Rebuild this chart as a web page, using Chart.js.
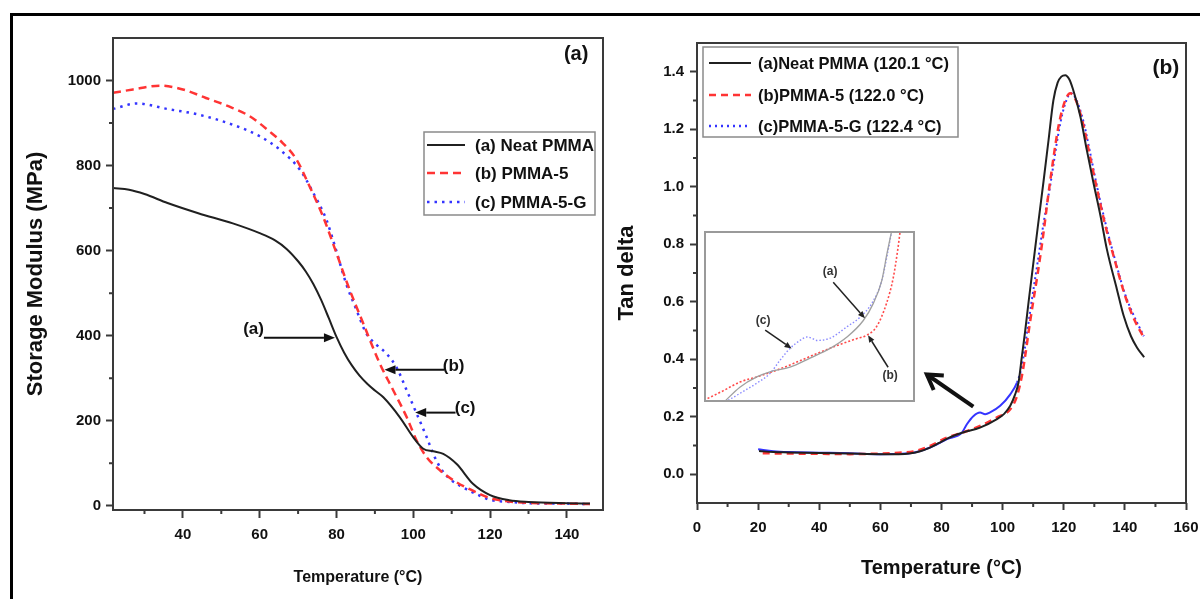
<!DOCTYPE html>
<html><head><meta charset="utf-8">
<script src="https://cdn.jsdelivr.net/npm/chart.js@4.4.1/dist/chart.umd.min.js"></script>
<style>
html,body{margin:0;padding:0;background:#fff;width:1200px;height:599px;overflow:hidden;position:relative}
canvas{position:absolute}
#border{position:absolute;left:10px;top:13px;width:1300px;height:700px;border-top:3px solid #000;border-left:3px solid #000}
</style></head><body>
<div id="border"></div>
<canvas id="ca" style="left:0;top:0" width="615" height="599"></canvas>
<canvas id="cb" style="left:605px;top:0" width="610" height="599"></canvas>
<canvas id="ci" style="left:704px;top:231px" width="211" height="171"></canvas>
<script>
// ---------- Panel (a): storage modulus ----------
const tempA_neat = [21.8, 26, 30, 36, 44, 53, 60, 64, 67, 70, 72, 74, 76, 78, 80, 82, 84, 86, 88, 90, 92.2, 96.5, 100, 102.6, 105.2, 107.8, 111.3, 115.6, 120, 125, 130, 140, 146];
const modA_neat  = [747, 743, 733, 712, 688, 664, 641, 624, 604, 575, 551, 521, 484, 441, 397, 360, 330, 306, 287, 271, 255, 208, 161, 134, 128, 122, 98, 51, 25, 13, 9, 6, 5];
const tempA_p5   = [21.8, 27, 34, 40, 46, 52, 57.4, 62.6, 66, 69.6, 73, 76.5, 80, 83, 87, 91.3, 94.8, 98.3, 100.9, 103.5, 107, 111.3, 114.7, 120, 125, 130, 140, 146];
const modA_p5    = [971, 979, 988, 979, 959, 939, 916, 880, 853, 814, 751, 680, 594, 518, 428, 334, 271, 208, 153, 114, 83, 55, 39, 18, 10, 7, 5, 4];
const tempA_p5g  = [21.8, 28, 36, 44, 53, 60, 65.3, 70.5, 74, 77.4, 79.5, 82.6, 85, 87.8, 90.5, 93, 95.6, 98.3, 100.9, 103.5, 105.2, 107, 109.5, 113, 117, 120, 125, 130, 140, 146];
const modA_p5g   = [933, 946, 933, 920, 896, 869, 837, 790, 735, 672, 613, 520, 465, 405, 378, 358, 326, 271, 216, 161, 122, 90, 63, 43, 25, 14, 9, 6, 5, 4];
const xTicksA = [40, 60, 80, 100, 120, 140];
const xMinorA = [30, 50, 70, 90, 110, 130];
const yTicksA = [0, 200, 400, 600, 800, 1000];
const yMinorA = [100, 300, 500, 700, 900];
const labelsA = ['(a) Neat PMMA', '(b) PMMA-5', '(c) PMMA-5-G'];

// ---------- Panel (b): tan delta ----------
const tempB_neat = [20.3, 25, 30, 40, 50, 60, 66, 70, 73, 76, 79, 82, 87, 92.6, 98, 100.5, 102.5, 104, 105.2, 106.3, 107.4, 108.5, 110, 111.5, 113.4, 115, 116.6, 118, 119.2, 120.5, 121.8, 123, 125.4, 127.5, 129.7, 132, 134.1, 137.4, 139.6, 142, 144, 146.3];
const tanB_neat  = [0.081, 0.077, 0.076, 0.074, 0.072, 0.07, 0.07, 0.073, 0.08, 0.092, 0.108, 0.125, 0.145, 0.162, 0.191, 0.21, 0.238, 0.275, 0.319, 0.41, 0.5, 0.6, 0.73, 0.86, 1.02, 1.16, 1.3, 1.362, 1.383, 1.388, 1.374, 1.34, 1.246, 1.13, 1.015, 0.9, 0.783, 0.643, 0.551, 0.48, 0.44, 0.407];
const tempB_p5   = [21.5, 30, 40, 50, 60, 66, 70.8, 76.3, 81.8, 87, 92.6, 98, 102.5, 104.7, 106.3, 107.5, 108.7, 110, 111.5, 113, 115.5, 118.3, 120.3, 122.1, 124, 126.5, 128.5, 130.9, 133.5, 136.3, 140.1, 143, 146.2];
const tanB_p5    = [0.073, 0.072, 0.071, 0.07, 0.072, 0.075, 0.079, 0.099, 0.128, 0.145, 0.168, 0.197, 0.226, 0.272, 0.342, 0.42, 0.51, 0.6, 0.7, 0.81, 1.015, 1.211, 1.295, 1.325, 1.3, 1.211, 1.11, 0.991, 0.87, 0.759, 0.62, 0.54, 0.475];
const tempB_p5g  = [20, 25, 30, 40, 50, 60, 66, 70.8, 76.3, 81.8, 86.7, 88.3, 90.5, 92.6, 94.3, 95.9, 99.2, 102.5, 104.7, 106.3, 108, 109.6, 111.5, 113.5, 115.5, 118.5, 120.5, 122.4, 124, 126.5, 128.5, 130.9, 133.5, 136.3, 140.1, 143, 146.2];
const tanB_p5g   = [0.087, 0.08, 0.077, 0.075, 0.073, 0.07, 0.071, 0.075, 0.093, 0.122, 0.145, 0.174, 0.203, 0.215, 0.209, 0.215, 0.238, 0.278, 0.319, 0.377, 0.493, 0.609, 0.74, 0.88, 1.0, 1.2, 1.29, 1.325, 1.305, 1.225, 1.125, 1.0, 0.88, 0.765, 0.625, 0.55, 0.48];
const xTicksB = [0, 20, 40, 60, 80, 100, 120, 140, 160];
const xMinorB = [10, 30, 50, 70, 90, 110, 130, 150];
const yTicksB = [0.0, 0.2, 0.4, 0.6, 0.8, 1.0, 1.2, 1.4];
const yMinorB = [0.1, 0.3, 0.5, 0.7, 0.9, 1.1, 1.3];
const labelsB = ['(a)Neat PMMA (120.1 °C)', '(b)PMMA-5 (122.0 °C)', '(c)PMMA-5-G (122.4 °C)'];

// ---------- Inset of panel (b) (magnified transition region) ----------
const insetT_neat = [73.8, 76.8, 80.0, 82.5, 86.3, 90.1, 93.9, 97.1, 100.2, 102.1, 103.7, 104.7, 105.6];
const insetV_neat = [0.05, 0.076, 0.094, 0.103, 0.111, 0.127, 0.144, 0.164, 0.193, 0.223, 0.263, 0.311, 0.351];
const insetT_p5   = [70, 73.7, 76.8, 80, 83.8, 87.6, 91.4, 95.2, 98.9, 100.8, 102.7, 104.6, 105.9, 106.8, 107.2];
const insetV_p5   = [0.053, 0.07, 0.085, 0.094, 0.106, 0.12, 0.135, 0.149, 0.161, 0.167, 0.182, 0.223, 0.269, 0.322, 0.351];
const insetT_p5g  = [74, 76.8, 80, 82.5, 84.4, 86.3, 88.2, 89.5, 90.4, 91.4, 93.9, 97.1, 99.6, 101.8, 103.7, 104.9, 105.6];
const insetV_p5g  = [0.05, 0.065, 0.083, 0.1, 0.123, 0.144, 0.158, 0.164, 0.162, 0.158, 0.162, 0.182, 0.199, 0.223, 0.263, 0.316, 0.351];

// ---------- styles ----------
const FS = "'Liberation Sans',Arial,sans-serif";
const INK = '#111';
const AXIS = '#3a3a3a';
const RED = '#ff3434';
const BLUE = '#3434ff';
const BLACK = '#202020';

function pts(xs, ys) { return xs.map((x, i) => ({ x: x, y: ys[i] })); }
function fixTicks(arr) { return s => { s.ticks = arr.map(v => ({ value: v })); }; }

function arrow(ctx, x0, y0, x1, y1, head, hw, lw, color) {
  const ang = Math.atan2(y1 - y0, x1 - x0);
  const bx = x1 - head * Math.cos(ang), by = y1 - head * Math.sin(ang);
  ctx.save();
  ctx.strokeStyle = color; ctx.fillStyle = color; ctx.lineWidth = lw;
  ctx.beginPath(); ctx.moveTo(x0, y0); ctx.lineTo(bx, by); ctx.stroke();
  ctx.beginPath(); ctx.moveTo(x1, y1);
  ctx.lineTo(bx + hw * Math.sin(ang), by - hw * Math.cos(ang));
  ctx.lineTo(bx - hw * Math.sin(ang), by + hw * Math.cos(ang));
  ctx.closePath(); ctx.fill();
  ctx.restore();
}

function framePlugin(minorX, minorY, len) {
  return {
    id: 'frame',
    afterDraw(chart) {
      const { ctx, chartArea: a, scales: { x, y } } = chart;
      ctx.save();
      ctx.strokeStyle = AXIS; ctx.lineWidth = 2;
      ctx.strokeRect(a.left, a.top, a.right - a.left, a.bottom - a.top);
      ctx.beginPath();
      minorX.forEach(v => { const p = x.getPixelForValue(v); ctx.moveTo(p, a.bottom); ctx.lineTo(p, a.bottom + len); });
      minorY.forEach(v => { const p = y.getPixelForValue(v); ctx.moveTo(a.left - len, p); ctx.lineTo(a.left, p); });
      ctx.stroke();
      ctx.restore();
    }
  };
}

function drawLegend(ctx, box, rows, font, sx0, sx1, tx) {
  ctx.save();
  ctx.fillStyle = '#fff';
  ctx.fillRect(box.x, box.y, box.w, box.h);
  ctx.strokeStyle = '#8a8a8a'; ctx.lineWidth = 1.5;
  ctx.strokeRect(box.x, box.y, box.w, box.h);
  rows.forEach(r => {
    ctx.strokeStyle = r.color; ctx.lineWidth = r.width; ctx.setLineDash(r.dash);
    ctx.beginPath(); ctx.moveTo(sx0, r.y); ctx.lineTo(sx1, r.y); ctx.stroke();
    ctx.setLineDash([]);
    ctx.fillStyle = INK; ctx.font = font; ctx.textBaseline = 'middle'; ctx.textAlign = 'left';
    ctx.fillText(r.label, tx, r.y + 1);
  });
  ctx.restore();
}

function axisCommon(tickLen) {
  return {
    grid: { display: true, drawOnChartArea: false, drawTicks: true, tickLength: tickLen, tickWidth: 2, tickColor: AXIS },
    border: { display: false }
  };
}

// ---------- chart (a) ----------
const annotA = [
  { label: '(a)', lx: 58.4, ly: 414, x0: 61.1, y0: 395, x1: 79.6, y1: 395 },
  { label: '(b)', lx: 110.5, ly: 327, x0: 108, y0: 320, x1: 92.5, y1: 320 },
  { label: '(c)', lx: 113.5, ly: 229, x0: 111, y0: 219, x1: 100.5, y1: 219 }
];

new Chart(document.getElementById('ca'), {
  type: 'line',
  data: {
    datasets: [
      { label: labelsA[0], data: pts(tempA_neat, modA_neat), borderColor: BLACK, borderWidth: 2 },
      { label: labelsA[1], data: pts(tempA_p5, modA_p5), borderColor: RED, borderWidth: 2.5, borderDash: [8, 5] },
      { label: labelsA[2], data: pts(tempA_p5g, modA_p5g), borderColor: BLUE, borderWidth: 2.5, borderDash: [2.5, 5] }
    ]
  },
  options: {
    responsive: false, animation: false,
    layout: { padding: { left: 0, top: 38, right: 12, bottom: 0 } },
    elements: { point: { radius: 0 }, line: { cubicInterpolationMode: 'monotone', fill: false, borderCapStyle: 'butt' } },
    plugins: { legend: { display: false }, tooltip: { enabled: false } },
    scales: {
      x: Object.assign(axisCommon(8), {
        type: 'linear', min: 21.8, max: 149.4,
        afterBuildTicks: fixTicks(xTicksA),
        afterFit: s => { s.height = 89; },
        ticks: { font: { family: FS, size: 15, weight: 'bold' }, color: INK, padding: 8, maxRotation: 0, autoSkip: false, callback: v => String(v) },
        title: { display: true, text: 'Temperature (°C)', font: { family: FS, size: 16, weight: 'bold' }, color: INK, padding: { top: 0, bottom: 12 } }
      }),
      y: Object.assign(axisCommon(7), {
        type: 'linear', min: -10, max: 1100,
        afterBuildTicks: fixTicks(yTicksA),
        afterFit: s => { s.width = 113; },
        ticks: { font: { family: FS, size: 15, weight: 'bold' }, color: INK, padding: 5, autoSkip: false, callback: v => String(v) },
        title: { display: true, text: 'Storage Modulus (MPa)', font: { family: FS, size: 22, weight: 'bold' }, color: INK, padding: { top: 23, bottom: 0 } }
      })
    }
  },
  plugins: [framePlugin(xMinorA, yMinorA, 4), {
    id: 'decoA',
    afterDraw(chart) {
      const { ctx, scales: { x, y } } = chart;
      ctx.save();
      ctx.fillStyle = INK; ctx.textAlign = 'center'; ctx.textBaseline = 'middle';
      ctx.font = 'bold 20px ' + FS;
      ctx.fillText('(a)', x.getPixelForValue(142.4), y.getPixelForValue(1061));
      ctx.font = 'bold 17px ' + FS;
      annotA.forEach(a => {
        ctx.fillText(a.label, x.getPixelForValue(a.lx), y.getPixelForValue(a.ly));
        arrow(ctx, x.getPixelForValue(a.x0), y.getPixelForValue(a.y0), x.getPixelForValue(a.x1), y.getPixelForValue(a.y1), 11, 4.5, 2, '#111');
      });
      ctx.restore();
      const ds = chart.data.datasets;
      drawLegend(ctx, { x: 424, y: 132, w: 171, h: 83 }, [
        { label: ds[0].label, y: 145, color: BLACK, width: 2, dash: [] },
        { label: ds[1].label, y: 173, color: RED, width: 2.5, dash: [8, 5] },
        { label: ds[2].label, y: 202, color: BLUE, width: 2.5, dash: [2.5, 5] }
      ], 'bold 17px ' + FS, 427, 465, 475);
    }
  }]
});

// ---------- chart (b) ----------
const bigArrowB = { x0: 90.4, y0: 0.235, x1: 75.2, y1: 0.347 };

new Chart(document.getElementById('cb'), {
  type: 'line',
  data: {
    datasets: [
      { label: labelsB[0], data: pts(tempB_neat, tanB_neat), borderColor: BLACK, borderWidth: 2 },
      { label: labelsB[1], data: pts(tempB_p5, tanB_p5), borderColor: RED, borderWidth: 2.5, borderDash: [7, 5] },
      { label: labelsB[2], data: pts(tempB_p5g, tanB_p5g), borderColor: BLUE, borderWidth: 2, borderDash: [],
        segment: { borderDash: c => (c.p0.parsed.y > 0.32 || c.p1.parsed.y > 0.32) ? [2, 3] : undefined } }
    ]
  },
  options: {
    responsive: false, animation: false,
    layout: { padding: { left: 0, top: 43, right: 29, bottom: 0 } },
    elements: { point: { radius: 0 }, line: { cubicInterpolationMode: 'monotone', fill: false, borderCapStyle: 'butt' } },
    plugins: { legend: { display: false }, tooltip: { enabled: false } },
    scales: {
      x: Object.assign(axisCommon(7), {
        type: 'linear', min: 0, max: 160,
        afterBuildTicks: fixTicks(xTicksB),
        afterFit: s => { s.height = 96; },
        ticks: { font: { family: FS, size: 15, weight: 'bold' }, color: INK, padding: 9, maxRotation: 0, autoSkip: false, callback: v => String(v) },
        title: { display: true, text: 'Temperature (°C)', font: { family: FS, size: 20, weight: 'bold' }, color: INK, padding: { top: 0, bottom: 19 } }
      }),
      y: Object.assign(axisCommon(7), {
        type: 'linear', min: -0.1, max: 1.5,
        afterBuildTicks: fixTicks(yTicksB),
        afterFit: s => { s.width = 92; },
        ticks: { font: { family: FS, size: 15, weight: 'bold' }, color: INK, padding: 6, autoSkip: false, callback: v => Number(v).toFixed(1) },
        title: { display: true, text: 'Tan delta', font: { family: FS, size: 22, weight: 'bold' }, color: INK, padding: { top: 9, bottom: 0 } }
      })
    }
  },
  plugins: [framePlugin(xMinorB, yMinorB, 4), {
    id: 'decoB',
    afterDraw(chart) {
      const { ctx, scales: { x, y } } = chart;
      ctx.save();
      ctx.fillStyle = INK; ctx.textAlign = 'center'; ctx.textBaseline = 'middle';
      ctx.font = 'bold 21px ' + FS;
      ctx.fillText('(b)', x.getPixelForValue(153.4), y.getPixelForValue(1.411));
      // open arrow pointing to inset
      const tx = x.getPixelForValue(bigArrowB.x1), ty = y.getPixelForValue(bigArrowB.y1);
      const sx = x.getPixelForValue(bigArrowB.x0), sy = y.getPixelForValue(bigArrowB.y0);
      const ang = Math.atan2(ty - sy, tx - sx);
      ctx.strokeStyle = '#111'; ctx.lineWidth = 4; ctx.lineCap = 'butt';
      ctx.beginPath(); ctx.moveTo(sx, sy); ctx.lineTo(tx, ty); ctx.stroke();
      ctx.beginPath();
      ctx.moveTo(tx - 17 * Math.cos(ang - 0.55), ty - 17 * Math.sin(ang - 0.55));
      ctx.lineTo(tx, ty);
      ctx.lineTo(tx - 17 * Math.cos(ang + 0.55), ty - 17 * Math.sin(ang + 0.55));
      ctx.stroke();
      ctx.restore();
      const ds = chart.data.datasets;
      drawLegend(ctx, { x: 98, y: 47, w: 255, h: 90 }, [
        { label: ds[0].label, y: 63, color: BLACK, width: 2, dash: [] },
        { label: ds[1].label, y: 95, color: RED, width: 2.5, dash: [7, 5] },
        { label: ds[2].label, y: 126, color: BLUE, width: 2.5, dash: [2, 4] }
      ], 'bold 16.5px ' + FS, 104, 146, 153);
    }
  }]
});

// ---------- inset ----------
const annotI = [
  { label: '(a)', lx: 93.9, ly: 0.278, x0: 94.5, y0: 0.26, x1: 100.5, y1: 0.197 },
  { label: '(c)', lx: 81.2, ly: 0.193, x0: 81.6, y0: 0.176, x1: 86.6, y1: 0.144 },
  { label: '(b)', lx: 105.3, ly: 0.097, x0: 104.9, y0: 0.111, x1: 101.1, y1: 0.167 }
];

new Chart(document.getElementById('ci'), {
  type: 'line',
  data: {
    datasets: [
      { data: pts(insetT_neat, insetV_neat), borderColor: '#a0a0a0', borderWidth: 1.3 },
      { data: pts(insetT_p5, insetV_p5), borderColor: '#ff4a4a', borderWidth: 1.6, borderDash: [2, 2] },
      { data: pts(insetT_p5g, insetV_p5g), borderColor: '#8a8aff', borderWidth: 1.4, borderDash: [1.5, 2] }
    ]
  },
  options: {
    responsive: false, animation: false,
    layout: { padding: 0 },
    elements: { point: { radius: 0 }, line: { cubicInterpolationMode: 'monotone', fill: false, borderCapStyle: 'butt' } },
    plugins: { legend: { display: false }, tooltip: { enabled: false } },
    scales: {
      x: { type: 'linear', display: false, min: 70, max: 110 },
      y: { type: 'linear', display: false, min: 0.05, max: 0.35 }
    }
  },
  plugins: [{
    id: 'insetDeco',
    beforeDraw(chart) {
      const { ctx, width, height } = chart;
      ctx.save(); ctx.fillStyle = '#fff'; ctx.fillRect(0, 0, width, height); ctx.restore();
    },
    afterDraw(chart) {
      const { ctx, width, height, scales: { x, y } } = chart;
      ctx.save();
      ctx.strokeStyle = '#9a9a9a'; ctx.lineWidth = 2;
      ctx.strokeRect(1, 1, width - 2, height - 2);
      ctx.fillStyle = '#333'; ctx.textAlign = 'center'; ctx.textBaseline = 'middle';
      ctx.font = 'bold 12px ' + FS;
      annotI.forEach(a => {
        ctx.fillText(a.label, x.getPixelForValue(a.lx), y.getPixelForValue(a.ly));
        arrow(ctx, x.getPixelForValue(a.x0), y.getPixelForValue(a.y0), x.getPixelForValue(a.x1), y.getPixelForValue(a.y1), 7, 3, 1.5, '#222');
      });
      ctx.restore();
    }
  }]
});
</script>
</body></html>
